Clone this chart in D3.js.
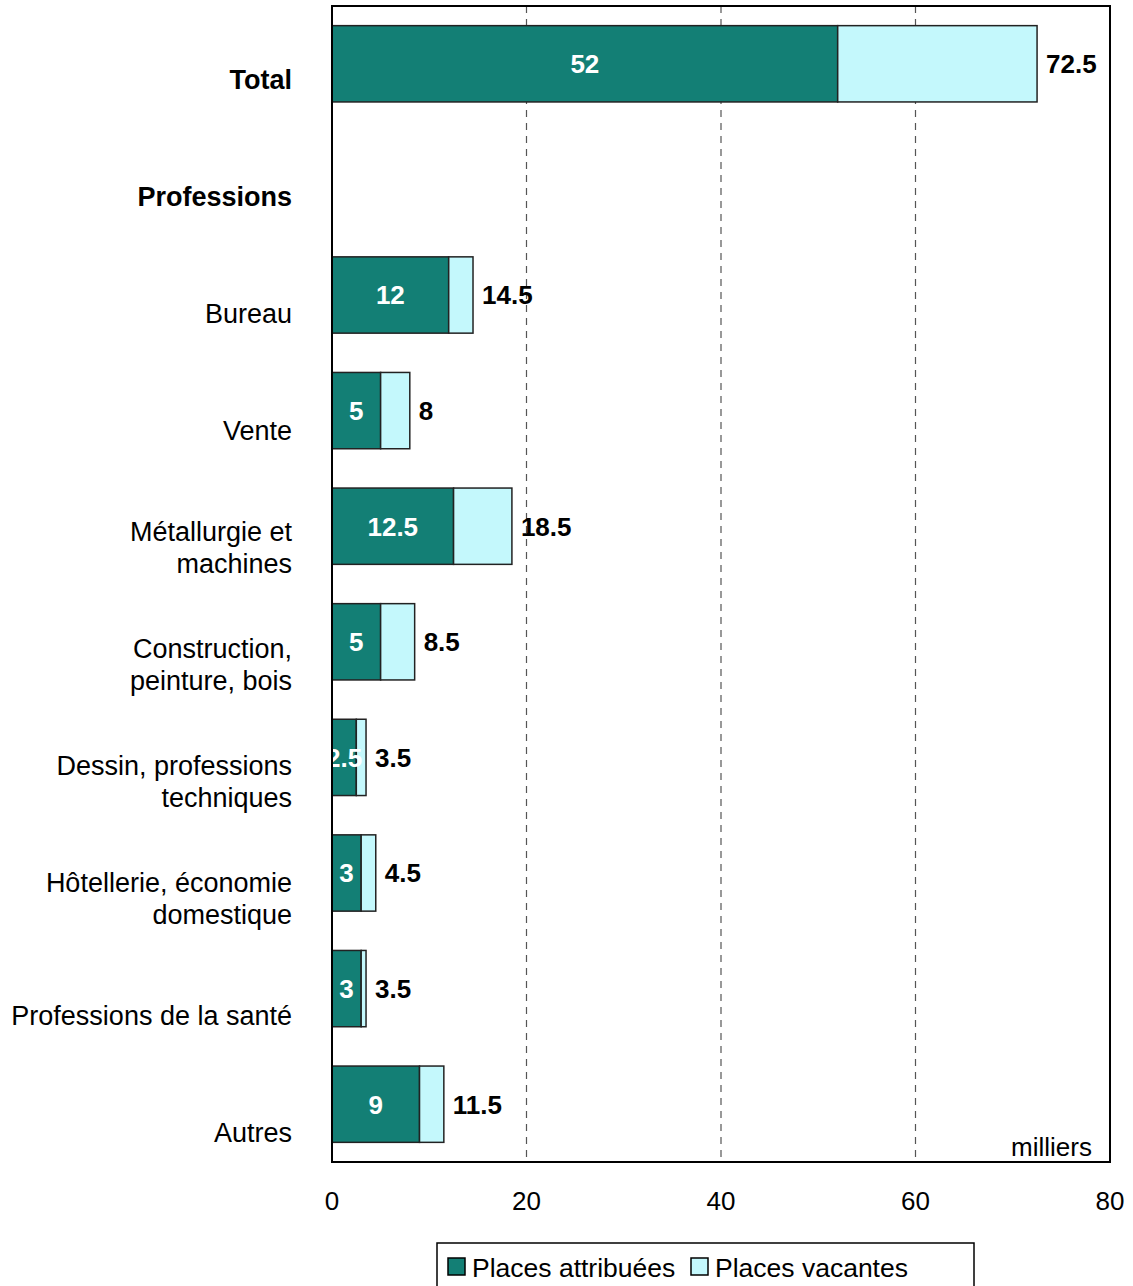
<!DOCTYPE html>
<html>
<head>
<meta charset="utf-8">
<script src="https://cdn.jsdelivr.net/npm/d3@7"></script>
<style>
  body { margin: 0; background: #fff; }
  svg { display: block; font-family: "Liberation Sans", Arial, sans-serif; }
</style>
</head>
<body>
<svg id="chart" width="1133" height="1286"></svg>
<script>
// Categories, top to bottom ("Professions" is a heading row without bars)
var categories = ["Total", "Professions", "Bureau", "Vente", "Métallurgie et\nmachines",
  "Construction,\npeinture, bois", "Dessin, professions\ntechniques",
  "Hôtellerie, économie\ndomestique", "Professions de la santé", "Autres"];
var boldCategories = ["Total", "Professions"];

// thousands
var attribuees = [52, null, 12, 5, 12.5, 5, 2.5, 3, 3, 9];
var vacantes = [20.5, null, 2.5, 3, 6, 3.5, 1, 1.5, 0.5, 2.5];
var totals = [72.5, null, 14.5, 8, 18.5, 8.5, 3.5, 4.5, 3.5, 11.5];

var xTicks = [0, 20, 40, 60, 80];
var seriesNames = ["Places attribuées", "Places vacantes"];
var colors = ["#137f75", "#c4f8fc"];

var svg = d3.select('#chart');
var plot = { left: 332, right: 1110, top: 6, bottom: 1162 };

var x = d3.scaleLinear().domain([0, 80]).range([plot.left, plot.right]);
var y = d3.scaleBand().domain(d3.range(categories.length))
  .range([plot.top, plot.bottom]).paddingInner(0.34).paddingOuter(0.17);
// category labels sit on a slightly taller grid than the bars
var yLabel = d3.scaleBand().domain(d3.range(categories.length)).range([20.5, 1190.5]);

// dashed gridlines
svg.append('g').selectAll('line')
  .data(xTicks.filter(function (d) { return d > 0 && d < 80; }))
  .enter().append('line')
  .attr('x1', x).attr('x2', x)
  .attr('y1', plot.top).attr('y2', plot.bottom)
  .attr('stroke', '#555').attr('stroke-width', 1.2)
  .attr('stroke-dasharray', '7,6');

// bars
var rows = categories.map(function (c, i) {
  return { i: i, a: attribuees[i], v: vacantes[i], t: totals[i] };
}).filter(function (d) { return d.a !== null; });

var bars = svg.append('g').selectAll('g').data(rows).enter().append('g');

bars.append('rect')
  .attr('x', x(0))
  .attr('y', function (d) { return y(d.i); })
  .attr('width', function (d) { return x(d.a) - x(0); })
  .attr('height', y.bandwidth())
  .attr('fill', colors[0]).attr('stroke', '#222').attr('stroke-width', 1.5);

bars.append('rect')
  .attr('x', function (d) { return x(d.a); })
  .attr('y', function (d) { return y(d.i); })
  .attr('width', function (d) { return x(d.a + d.v) - x(d.a); })
  .attr('height', y.bandwidth())
  .attr('fill', colors[1]).attr('stroke', '#222').attr('stroke-width', 1.5);

bars.append('text')
  .attr('x', function (d) { return (x(0) + x(d.a)) / 2; })
  .attr('y', function (d) { return y(d.i) + y.bandwidth() / 2; })
  .attr('dy', '0.36em')
  .attr('text-anchor', 'middle')
  .attr('fill', '#fff').attr('font-weight', 'bold').attr('font-size', 26)
  .text(function (d) { return d.a; });

bars.append('text')
  .attr('x', function (d) { return x(d.t) + 9; })
  .attr('y', function (d) { return y(d.i) + y.bandwidth() / 2; })
  .attr('dy', '0.36em')
  .attr('fill', '#000').attr('font-weight', 'bold').attr('font-size', 26)
  .text(function (d) { return d.t; });

// frame
svg.append('rect')
  .attr('x', plot.left).attr('y', plot.top)
  .attr('width', plot.right - plot.left).attr('height', plot.bottom - plot.top)
  .attr('fill', 'none').attr('stroke', '#000').attr('stroke-width', 2);

// category labels
var labels = svg.append('g').selectAll('text').data(categories).enter().append('text')
  .attr('text-anchor', 'end')
  .attr('font-size', 27)
  .attr('font-weight', function (d) { return boldCategories.indexOf(d) >= 0 ? 'bold' : 'normal'; })
  .attr('fill', '#000');

labels.each(function (d, i) {
  var lines = d.split('\n');
  var cy = yLabel(i) + yLabel.bandwidth() / 2;
  var start = cy - (lines.length - 1) * 16;
  d3.select(this).selectAll('tspan').data(lines).enter().append('tspan')
    .attr('x', 292)
    .attr('y', function (l, j) { return start + j * 32; })
    .attr('dy', '0.36em')
    .text(function (l) { return l; });
});

// x axis labels
svg.append('g').selectAll('text').data(xTicks).enter().append('text')
  .attr('x', x).attr('y', 1201).attr('dy', '0.36em')
  .attr('text-anchor', 'middle').attr('font-size', 26)
  .text(function (d) { return d; });

svg.append('text')
  .attr('x', 1092).attr('y', 1147).attr('dy', '0.36em')
  .attr('text-anchor', 'end').attr('font-size', 26)
  .text('milliers');

// legend
var legend = svg.append('g');
legend.append('rect')
  .attr('x', 437).attr('y', 1243).attr('width', 537).attr('height', 60)
  .attr('fill', '#fff').attr('stroke', '#000').attr('stroke-width', 1.5);

var legendX = [448, 691];
seriesNames.forEach(function (name, i) {
  legend.append('rect')
    .attr('x', legendX[i]).attr('y', 1258).attr('width', 17).attr('height', 17)
    .attr('fill', colors[i]).attr('stroke', '#000').attr('stroke-width', 1.5);
  legend.append('text')
    .attr('x', legendX[i] + 24).attr('y', 1267).attr('dy', '0.36em')
    .attr('font-size', 26.5)
    .text(name);
});
</script>
</body>
</html>
